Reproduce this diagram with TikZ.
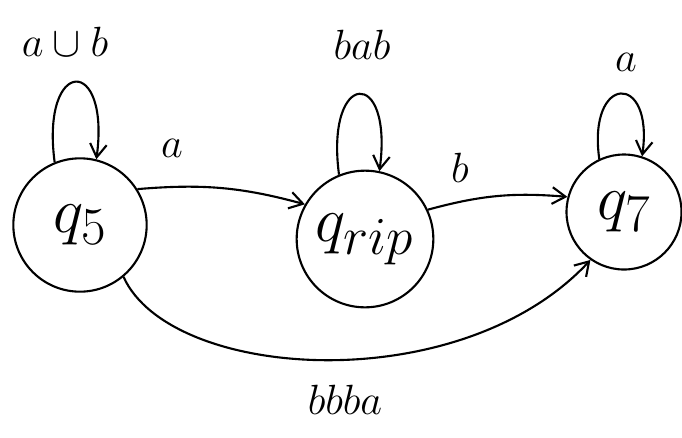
\documentclass[tikz,border=0pt]{standalone}
\usetikzlibrary{arrows.meta}
\newcommand{\stxt}[1]{\scalebox{2.2}{\Huge$#1$}}
\newcommand{\ltxt}[1]{\scalebox{1.45}{\Huge$#1$}}
\begin{document}
\begin{tikzpicture}[x=0.03cm,y=-0.03cm,
  statenode/.style={draw,circle,line width=1.8pt,inner sep=0pt},
  edge/.style={line width=1.8pt,-{Straight Barb[length=4mm,width=5mm,line width=1.8pt]}},
  lbl/.style={inner sep=0pt}]
\useasboundingbox (0,0) rectangle (682,437);
\node[statenode,minimum size=4.0cm] (q5) at (80,225) {\stxt{q_5}};
\node[statenode,minimum size=4.1cm] (qrip) at (365,239) {\stxt{q_{rip}}};
\node[statenode,minimum size=3.45cm] (q7) at (624,212) {\stxt{q_7}};
% self loops
\draw[edge] (q5.112) .. controls +(-14,-105) and +(14,-105) .. (q5.76);
\draw[edge] (qrip.112) .. controls +(-14,-105) and +(14,-105) .. (qrip.78);
\draw[edge] (q7.115) .. controls +(-12,-85) and +(12,-85) .. (q7.72);
% edges
\draw[edge] (q5.32) to[bend left=10] (qrip.150);
\draw[edge] (qrip.25) to[bend left=10] (q7.165);
\draw[edge] (q5.-50) .. controls +(47,104) and +(-130,140) .. (q7.-125);
% labels
\node[lbl] (l1) at (65,42) {\ltxt{a\cup b}};
\node[lbl] (l2) at (362,45) {\ltxt{bab}};
\node[lbl] (l3) at (626,62) {\ltxt{a}};
\node[lbl] (l4) at (172,148) {\ltxt{a}};
\node[lbl] (l5) at (460,168) {\ltxt{b}};
\node[lbl] (l6) at (345,400) {\ltxt{bbba}};
\end{tikzpicture}
\end{document}
